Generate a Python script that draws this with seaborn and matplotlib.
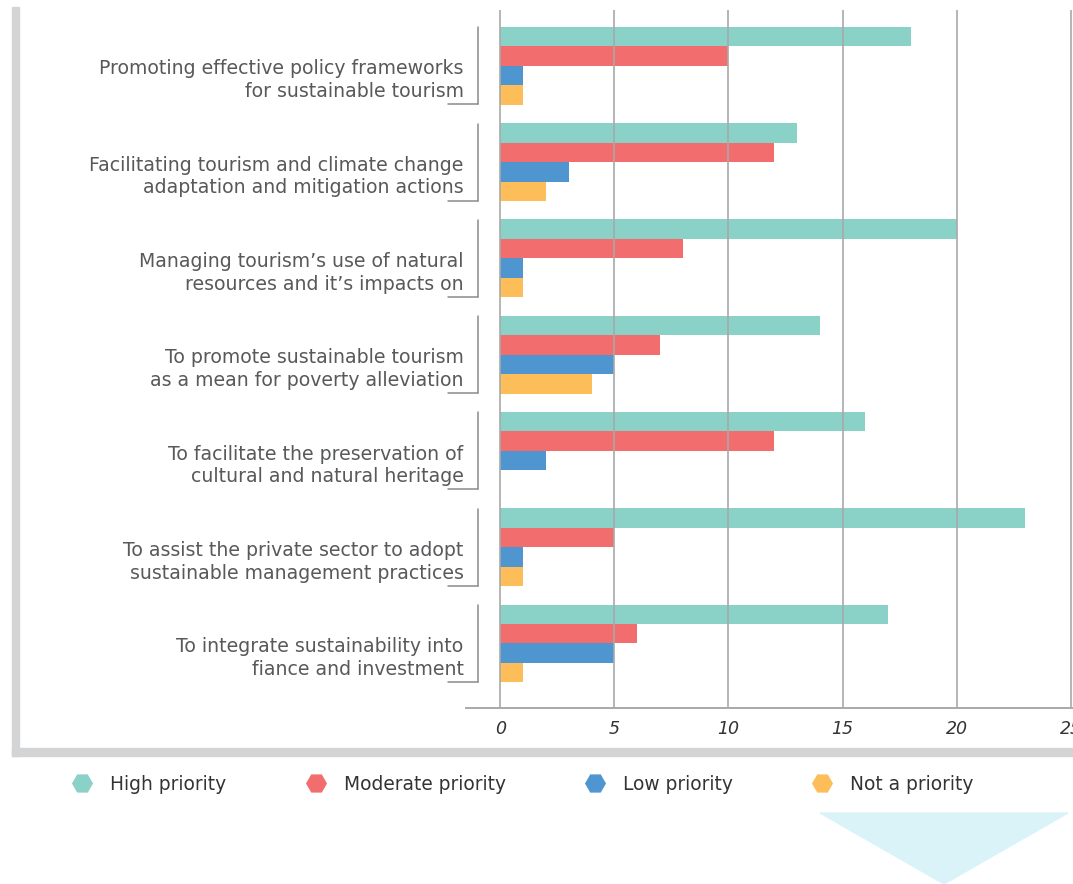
import matplotlib
matplotlib.use("Agg")
import matplotlib.pyplot as plt
from matplotlib.patches import Rectangle, Polygon
from matplotlib.lines import Line2D
import seaborn as sns
import pandas as pd

categories = [
    "Promoting effective policy frameworks\nfor sustainable tourism",
    "Facilitating tourism and climate change\nadaptation and mitigation actions",
    "Managing tourism\u2019s use of natural\nresources and it\u2019s impacts on",
    "To promote sustainable tourism\nas a mean for poverty alleviation",
    "To facilitate the preservation of\ncultural and natural heritage",
    "To assist the private sector to adopt\nsustainable management practices",
    "To integrate sustainability into\nfiance and investment",
]
priorities = ["High priority", "Moderate priority", "Low priority", "Not a priority"]
high = [18, 13, 20, 14, 16, 23, 17]
moderate = [10, 12, 8, 7, 12, 5, 6]
low = [1, 3, 1, 5, 2, 1, 5]
not_priority = [1, 2, 1, 4, 0, 1, 1]
xticks = [0, 5, 10, 15, 20, 25]

colors = ["#8ad1c8", "#f26d6e", "#4f96d0", "#fdbe5a"]

rows = []
for name, vals in zip(priorities, [high, moderate, low, not_priority]):
    for c, v in zip(categories, vals):
        rows.append({"category": c, "priority": name, "value": v})
df = pd.DataFrame(rows)

sns.set_theme(style="white")
plt.rcParams["font.family"] = ["DejaVu Sans"]

fig = plt.figure(figsize=(10.73, 8.84), dpi=100)
ax = fig.add_axes([466 / 1073, 1 - 708 / 884, (1072 - 466) / 1073, 698 / 884])

sns.barplot(data=df, y="category", x="value", hue="priority", order=categories,
            hue_order=priorities, palette=colors, orient="h", width=0.81,
            saturation=1, legend=False, linewidth=0, ax=ax)

ax.set_xlim(-1.5, 25.05)
ax.set_ylim(6.67, -0.58)
ax.set_xlabel("")
ax.set_ylabel("")
ax.set_yticks([])
ax.set_xticks(xticks)
ax.set_xticklabels([str(t) for t in xticks], fontsize=12.5, style="italic", color="#333333")
ax.tick_params(axis="x", length=0, pad=9)
ax.set_axisbelow(False)
ax.grid(axis="x", color="#a9a9a9", linewidth=1.2)
for s in ["left", "top", "right"]:
    ax.spines[s].set_visible(False)
ax.spines["bottom"].set_color("#a9a9a9")
ax.spines["bottom"].set_linewidth(1.4)

# category labels with bracket lines
for i, c in enumerate(categories):
    ax.text(-1.6, i + 0.15, c, ha="right", va="center", multialignment="right",
            fontsize=13.6, color="#58595b", linespacing=1.25, clip_on=False)
    ax.plot([-0.965, -0.965], [i - 0.40, i + 0.40], color="#8a8a8a", lw=1.1, clip_on=False)
    ax.plot([-2.28, -0.965], [i + 0.40, i + 0.40], color="#8a8a8a", lw=1.1, clip_on=False)

# gray frame
W, H = 1073, 884
fig.patches.append(Rectangle((12 / W, 1 - 756 / H), 7 / W, (756 - 7) / H,
                             transform=fig.transFigure, color="#d3d4d6", zorder=0))
fig.patches.append(Rectangle((12 / W, 1 - 756 / H), 1 - 12 / W, 8 / H,
                             transform=fig.transFigure, color="#d3d4d6", zorder=0))
# arrow triangle
fig.patches.append(Polygon([(820 / W, 1 - 813 / H), (1068 / W, 1 - 813 / H), (944 / W, 0)],
                           closed=True, transform=fig.transFigure, color="#d9f3f8", zorder=0))

handles = [Line2D([], [], marker="H", linestyle="none", markersize=14,
                  markerfacecolor=col, markeredgecolor=col) for col in colors]
leg = fig.legend(handles, priorities, loc="center left", bbox_to_anchor=(75 / W, 1 - 784 / H),
                 ncol=4, frameon=False, fontsize=13.4, handletextpad=1.1,
                 columnspacing=4.4, handlelength=0.8, borderaxespad=0, borderpad=0)
for t in leg.get_texts():
    t.set_color("#333333")

fig.savefig("out.png", dpi=100)
